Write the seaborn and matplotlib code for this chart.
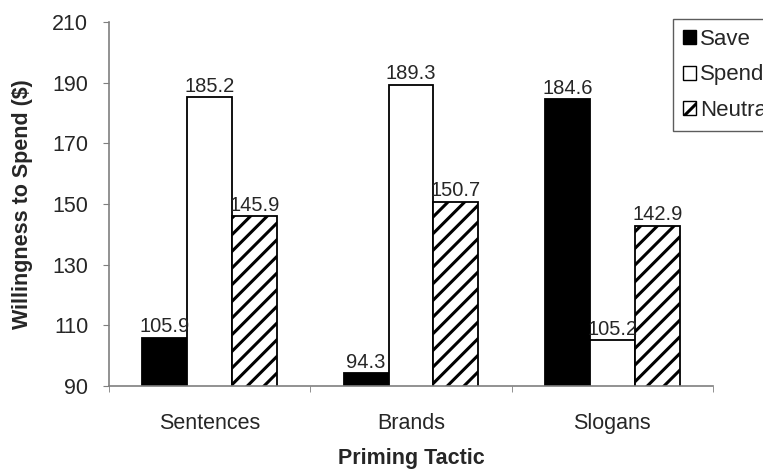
import pandas as pd
import matplotlib
matplotlib.use("Agg")
import matplotlib.pyplot as plt
import seaborn as sns
from matplotlib.patches import Patch

# Data
tactics = ["Sentences", "Brands", "Slogans"]
conditions = ["Save", "Spend", "Neutral"]
save_vals = [105.9, 94.3, 184.6]
spend_vals = [185.2, 189.3, 105.2]
neutral_vals = [145.9, 150.7, 142.9]
y_ticks = [90, 110, 130, 150, 170, 190, 210]

df = pd.DataFrame({
    "tactic": tactics * 3,
    "condition": [c for c in conditions for _ in tactics],
    "value": save_vals + spend_vals + neutral_vals,
})

sns.set_style("white")
plt.rcParams["font.family"] = ["Liberation Sans", "DejaVu Sans"]
plt.rcParams["hatch.linewidth"] = 2.2

fig = plt.figure(figsize=(7.63, 4.70), dpi=100)
ax = fig.add_axes([109 / 763, 1 - 386 / 470, 604 / 763, 364 / 470])

colors = {"Save": "black", "Spend": "white", "Neutral": "white"}
sns.barplot(data=df, x="tactic", y="value", hue="condition", order=tactics,
            hue_order=conditions, palette=colors, width=0.67, gap=0,
            edgecolor="black", linewidth=1.3, saturation=1, legend=False, ax=ax)

# hatch the neutral bars
for bar in ax.containers[2]:
    bar.set_hatch("//")

for cont in ax.containers:
    ax.bar_label(cont, fmt="%.1f", fontsize=14.5, padding=1)

ax.set_ylim(90, 210)
ax.set_yticks(y_ticks)
ax.set_xlim(-0.5, 2.5)

for side in ["top", "right"]:
    ax.spines[side].set_visible(False)
for side in ["left", "bottom"]:
    ax.spines[side].set_color("#7f7f7f")
    ax.spines[side].set_linewidth(1.2)

ax.tick_params(axis="y", left=True, direction="out", length=4, color="#7f7f7f",
               labelsize=15.5, pad=11)
ax.tick_params(axis="x", which="major", bottom=False, labelsize=15.5, pad=16)
ax.set_xticks([-0.5, 0.5, 1.5, 2.5], minor=True)
ax.tick_params(axis="x", which="minor", bottom=True, direction="out", length=4,
               color="#7f7f7f")

ax.set_xlabel("")
ax.set_ylabel("")
fig.text(411 / 763, 1 - 464 / 470, "Priming Tactic", fontsize=15.5, fontweight="bold",
         ha="center", va="baseline")
fig.text(23 / 763, 1 - 204 / 470, "Willingness to Spend ($)", fontsize=15.5,
         fontweight="bold", rotation=90, ha="center", va="center")

handles = [
    Patch(facecolor="black", edgecolor="black", label="Save"),
    Patch(facecolor="white", edgecolor="black", label="Spend"),
    Patch(facecolor="white", edgecolor="black", hatch="//", label="Neutral"),
]
fig.legend(handles=handles, loc="upper left", bbox_to_anchor=(673 / 763, 1 - 19 / 470),
           fontsize=16, frameon=True, fancybox=False, edgecolor="#333333",
           handlelength=0.6, handleheight=0.6, handletextpad=0.15,
           labelspacing=0.65, borderpad=0.45, borderaxespad=0)

fig.savefig("out.png", dpi=100)
